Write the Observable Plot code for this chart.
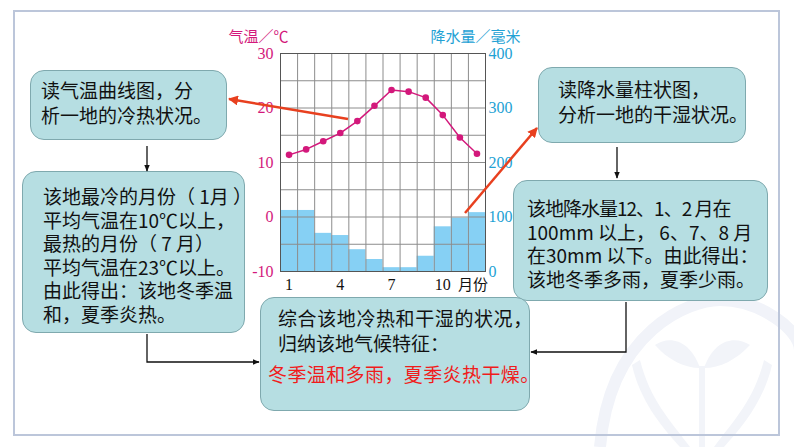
<!DOCTYPE html>
<html>
<head>
<meta charset="utf-8">
<script src="https://cdn.jsdelivr.net/npm/d3@7"></script>
<script src="https://cdn.jsdelivr.net/npm/@observablehq/plot@0.6"></script>
<style>
  html, body { margin: 0; padding: 0; background: #fff; }
  #page { position: relative; width: 794px; height: 447px; overflow: hidden; background: #fff; }
  #chart svg { position: absolute; left: 0; top: 0; }
  .box {
    position: absolute; box-sizing: border-box;
    background: #b6dee2; border: 1px solid #7fa9ae; border-radius: 14px;
    font-family: "Noto Sans CJK SC", "Noto Sans", sans-serif;
    font-size: 19px; color: #111; white-space: nowrap; overflow: visible;
  }
  #overlay, #bg { position: absolute; left: 0; top: 0; pointer-events: none; }
</style>
</head>
<body>
<div id="page">
  <svg id="bg" width="794" height="447">
    <g fill="none" stroke="#f1f3f9" stroke-width="12">
      <path d="M600,447 C610,330 690,300 720,300 C760,300 800,330 800,350"/>
    </g>
    <g fill="#f2f4f9">
      <path d="M700,368 C690,340 670,335 655,345 C668,360 685,368 700,368 Z"/>
      <path d="M704,368 C714,340 734,335 750,345 C736,360 720,368 704,368 Z"/>
      <rect x="699" y="366" width="6" height="81"/>
      <path d="M640,360 C650,400 670,420 690,447 L680,447 C660,425 640,400 632,365 Z"/>
      <path d="M764,360 C754,400 734,420 714,447 L724,447 C744,425 764,400 772,365 Z"/>
    </g>
    <rect x="14" y="11" width="765" height="424" fill="none" stroke="#bcc6da" stroke-width="2"/>
  </svg>
  <div id="chart"></div>

  <div class="box" style="left:30px;top:70px;width:197px;height:70px;padding:6px 0 0 10px;line-height:25px;">
    <div>读气温曲线图，分</div><div>析一地的冷热状况。</div>
  </div>
  <div class="box" style="left:22px;top:171px;width:223px;height:162px;padding:12px 0 0 20px;line-height:23.6px;">
    <div>该地最冷的月份（ 1月 ）</div>
    <div>平均气温在10℃以上，</div>
    <div>最热的月份（ 7 月）</div>
    <div>平均气温在23℃以上。</div>
    <div>由此得出：该地冬季温</div>
    <div>和，夏季炎热。</div>
  </div>
  <div class="box" style="left:538px;top:67px;width:208px;height:76px;padding:8px 0 0 19px;line-height:25px;">
    <div>读降水量柱状图，</div><div>分析一地的干湿状况。</div>
  </div>
  <div class="box" style="left:513px;top:180px;width:255px;height:121px;padding:15px 0 0 13px;line-height:23.7px;">
    <div style="letter-spacing:-1px;">该地降水量12、1、2 月在</div>
    <div>100mm 以上， 6、7、8 月</div>
    <div>在30mm 以下。由此得出：</div>
    <div>该地冬季多雨，夏季少雨。</div>
  </div>
  <div class="box" style="left:260px;top:297px;width:270px;height:114px;padding:7px 0 0 17px;line-height:25px;">
    <div style="letter-spacing:0.6px;">综合该地冷热和干湿的状况，</div>
    <div>归纳该地气候特征：</div>
    <div style="color:#f01c1c;margin-top:6px;margin-left:-10px;letter-spacing:0.4px;">冬季温和多雨，夏季炎热干燥。</div>
  </div>

  <svg id="overlay" width="794" height="447">
    <defs>
      <marker id="ab" viewBox="0 0 10 10" refX="9" refY="5" markerWidth="7" markerHeight="7" orient="auto-start-reverse" markerUnits="userSpaceOnUse">
        <path d="M0,1 L10,5 L0,9 Z" fill="#111"/>
      </marker>
      <marker id="ar" viewBox="0 0 10 10" refX="9" refY="5" markerWidth="10" markerHeight="10" orient="auto-start-reverse" markerUnits="userSpaceOnUse">
        <path d="M0,0 L10,5 L0,10 Z" fill="#e8401f"/>
      </marker>
    </defs>
    <g stroke="#111" stroke-width="1.3" fill="none">
      <line x1="147" y1="146" x2="147" y2="171" marker-end="url(#ab)"/>
      <line x1="617" y1="147" x2="617" y2="178" marker-end="url(#ab)"/>
      <polyline points="147,334 147,362 259,362" marker-end="url(#ab)"/>
      <polyline points="626,302 626,352 531,352" marker-end="url(#ab)"/>
    </g>
    <g stroke="#e8401f" stroke-width="2.5" fill="none">
      <line x1="348" y1="119" x2="229" y2="99" marker-end="url(#ar)"/>
      <line x1="465" y1="213" x2="537" y2="128" marker-end="url(#ar)"/>
    </g>
  </svg>
</div>
<script>
// Months and climate values
const months = [1, 2, 3, 4, 5, 6, 7, 8, 9, 10, 11, 12];
const temperature = [11.4, 12.4, 13.9, 15.4, 17.6, 20.4, 23.3, 23.0, 21.9, 18.7, 14.6, 11.6];
const precipitation = [112, 112, 70, 66, 40, 22, 7, 7, 28, 82, 98, 108];
// Axes
const tempTicks = [-10, 0, 10, 20, 30];
const precipTicks = [0, 100, 200, 300, 400];
const xTickLabels = ["1", "4", "7", "10", "月份"];
const xTickPositions = [1, 4, 7, 10, 12];
const tempTitle = "气温／℃";
const precipTitle = "降水量／毫米";

const MAGENTA = "#d3187b";
const BLUE = "#22a1d4";
const tempMin = -10, tempMax = 30, precipMax = 400;
const p2t = p => tempMin + p * (tempMax - tempMin) / precipMax;

const rows = months.map((m, i) => ({month: m, temp: temperature[i], precip: precipitation[i]}));
const gridY = d3.range(tempMin, tempMax + 0.001, 5);
const gridX = d3.range(0.5, 12.51, 1);

const chart = Plot.plot({
  width: 794,
  height: 447,
  marginLeft: 280,
  marginRight: 309,
  marginTop: 53,
  marginBottom: 176,
  x: {domain: [0.5, 12.5], axis: null},
  y: {domain: [tempMin, tempMax], axis: null},
  style: {background: "transparent", overflow: "visible"},
  marks: [
    Plot.rectY(rows, {x1: d => d.month - 0.5, x2: d => d.month + 0.5, y1: () => tempMin, y2: d => p2t(d.precip), fill: "#86d0f4"}),
    Plot.ruleY(gridY, {stroke: "#8c8c8c", strokeWidth: 1}),
    Plot.ruleX(gridX, {stroke: "#8c8c8c", strokeWidth: 1}),
    Plot.frame({stroke: "#555"}),
    Plot.line(rows, {x: "month", y: "temp", stroke: MAGENTA, strokeWidth: 1.5}),
    Plot.dot(rows, {x: "month", y: "temp", r: 3.3, fill: MAGENTA}),
    Plot.axisY(tempTicks, {anchor: "left", tickSize: 0, tickPadding: 7, label: null, fill: MAGENTA,
      fontSize: 16, fontFamily: "Liberation Serif", tickFormat: d => String(d)}),
    Plot.axisY(precipTicks.map(p2t), {anchor: "right", tickSize: 0, tickPadding: 3, label: null, fill: BLUE,
      fontSize: 16, fontFamily: "Liberation Serif", tickFormat: (d, i) => String(precipTicks[i])}),
    Plot.text(xTickLabels.slice(0, 4), {x: (d, i) => xTickPositions[i], y: () => tempMin, text: d => d, dy: 13,
      lineAnchor: "middle", fill: "#111", fontSize: 16, fontFamily: "Liberation Serif"}),
    Plot.text(xTickLabels.slice(4), {x: (d, i) => xTickPositions[4 + i], y: () => tempMin, text: d => d, dy: 14, dx: -4,
      lineAnchor: "middle", fill: "#111", fontSize: 15, fontFamily: "Noto Sans CJK SC"}),
    Plot.text([tempTitle], {frameAnchor: "top-left", text: d => d, textAnchor: "start", lineAnchor: "middle",
      dx: -52, dy: -16, fill: MAGENTA, fontSize: 15, fontFamily: "Noto Sans CJK SC"}),
    Plot.text([precipTitle], {frameAnchor: "top-right", text: d => d, textAnchor: "end", lineAnchor: "middle",
      dx: 35, dy: -16, fill: BLUE, fontSize: 15, fontFamily: "Noto Sans CJK SC"})
  ]
});
document.getElementById("chart").appendChild(chart);
</script>
</body>
</html>
